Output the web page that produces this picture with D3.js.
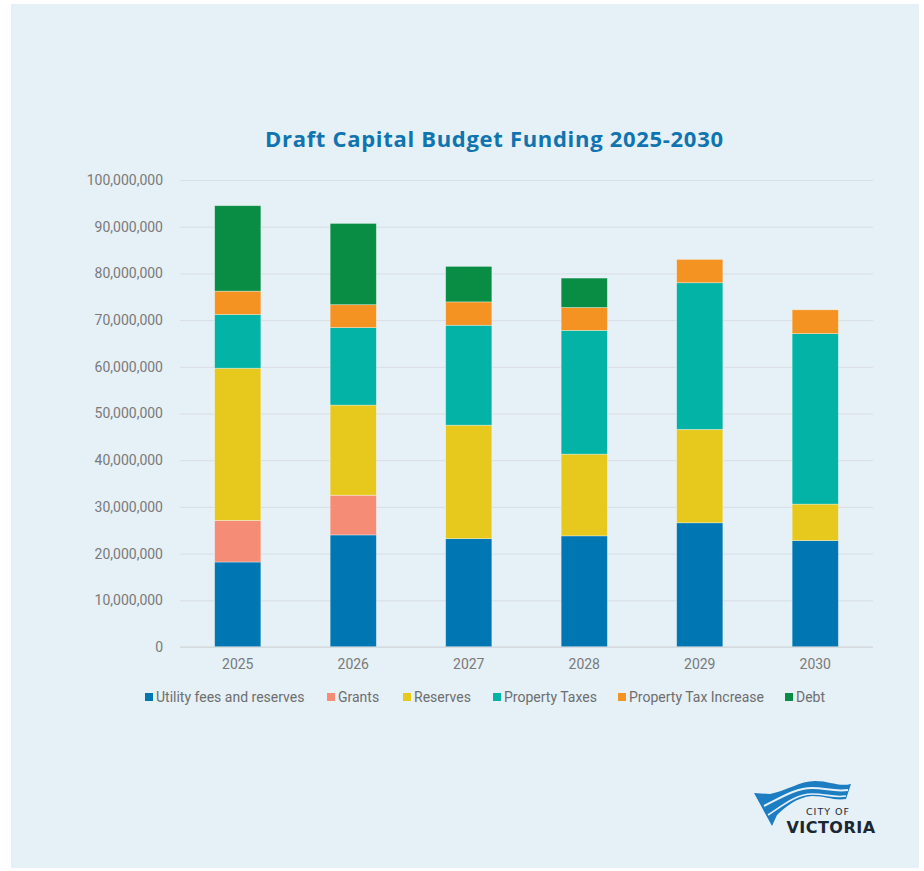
<!DOCTYPE html>
<html>
<head>
<meta charset="utf-8">
<script src="https://cdn.jsdelivr.net/npm/d3@7"></script>
<style>
  html, body { margin: 0; padding: 0; background: #ffffff; }
  svg { display: block; }
</style>
</head>
<body>
<svg id="chart" width="924" height="871"></svg>
<script>
// Capital funding sources by year, in millions of dollars
const years = ["2025", "2026", "2027", "2028", "2029", "2030"];
const seriesNames = ["Utility fees and reserves", "Grants", "Reserves", "Property Taxes", "Property Tax Increase", "Debt"];
const seriesColors = ["#0077B3", "#F48C76", "#E6C91C", "#03B3A6", "#F49321", "#098D45"];

const utilityFees      = [18.2, 24.0, 23.2, 23.8, 26.6, 22.8];
const grants           = [8.9, 8.5, 0, 0, 0, 0];
const reserves         = [32.6, 19.3, 24.3, 17.5, 20.0, 7.8];
const propertyTaxes    = [11.5, 16.6, 21.4, 26.5, 31.4, 36.5];
const propertyTaxIncr  = [5.0, 4.9, 5.0, 4.9, 5.0, 5.1];
const debt             = [18.3, 17.4, 7.6, 6.3, 0, 0];

const yTicks = [0, 10e6, 20e6, 30e6, 40e6, 50e6, 60e6, 70e6, 80e6, 90e6, 100e6];

const seriesValues = [utilityFees, grants, reserves, propertyTaxes, propertyTaxIncr, debt];
const rows = years.map((yr, i) => {
  const r = { year: yr };
  seriesNames.forEach((n, s) => { r[n] = seriesValues[s][i] * 1e6; });
  return r;
});

const svg = d3.select("#chart");

// Panel background
svg.append("rect")
  .attr("x", 11).attr("y", 4).attr("width", 908).attr("height", 864)
  .attr("fill", "#E5F0F7");

const plot = { left: 180, right: 873, top: 180, bottom: 647 };

const x = d3.scaleBand().domain(years)
  .range([plot.left, plot.right])
  .paddingInner(0.6).paddingOuter(0.3);

const y = d3.scaleLinear().domain([0, 100e6]).range([plot.bottom, plot.top]);

// Title
svg.append("text")
  .attr("x", 494).attr("y", 147)
  .attr("text-anchor", "middle")
  .attr("font-family", "'Open Sans', Lato, sans-serif")
  .attr("font-weight", 700)
  .attr("font-size", 22)
  .attr("textLength", 458)
  .attr("lengthAdjust", "spacing")
  .attr("fill", "#0F74AF")
  .text("Draft Capital Budget Funding 2025-2030");

// Gridlines and value labels
const yAxis = d3.axisLeft(y).tickValues(yTicks)
  .tickFormat(d => d3.format(",")(d))
  .tickSize(-(plot.right - plot.left)).tickPadding(17);

const gy = svg.append("g")
  .attr("transform", `translate(${plot.left},0)`)
  .call(yAxis);
gy.select(".domain").remove();
gy.selectAll(".tick line").attr("stroke", "#D9DEE3").attr("stroke-width", 1);
gy.selectAll(".tick text")
  .attr("font-family", "Roboto, 'Noto Sans', sans-serif")
  .attr("font-size", 14)
  .attr("fill", "#7A7A7A");

// Stacked bars
const stacked = d3.stack().keys(seriesNames)(rows);

svg.append("g").selectAll("g")
  .data(stacked)
  .join("g")
  .attr("fill", (d, i) => seriesColors[i])
  .selectAll("rect")
  .data(d => d.filter(p => p[1] - p[0] > 0))
  .join("rect")
  .attr("x", d => x(d.data.year))
  .attr("width", x.bandwidth())
  .attr("y", d => y(d[1]))
  .attr("height", d => y(d[0]) - y(d[1]))
  .attr("stroke", "rgba(255,255,255,0.45)")
  .attr("stroke-width", 0.75);

// Baseline
svg.append("line")
  .attr("x1", plot.left).attr("x2", plot.right)
  .attr("y1", y(0)).attr("y2", y(0))
  .attr("stroke", "#D0D5DA").attr("stroke-width", 1.2);

// Year labels
const xAxis = d3.axisBottom(x).tickSize(0).tickPadding(12);
const gx = svg.append("g")
  .attr("transform", `translate(0,${plot.bottom})`)
  .call(xAxis);
gx.select(".domain").remove();
gx.selectAll(".tick text")
  .attr("font-family", "Roboto, 'Noto Sans', sans-serif")
  .attr("font-size", 14)
  .attr("fill", "#7A7A7A");

// Legend
const legendX = [145, 327, 403, 493, 618, 785];
const legend = svg.append("g");
seriesNames.forEach((n, i) => {
  const g = legend.append("g").attr("transform", `translate(${legendX[i]},697)`);
  g.append("rect").attr("x", 0).attr("y", -4).attr("width", 8).attr("height", 8)
    .attr("fill", seriesColors[i]);
  g.append("text").attr("x", 11).attr("y", 0).attr("dy", "0.35em")
    .attr("font-family", "Roboto, 'Noto Sans', sans-serif")
    .attr("font-size", 14)
    .attr("fill", "#6E6E6E")
    .text(n);
});

// City of Victoria logo
const logo = svg.append("g");
logo.append("path")
  .attr("d", "M754,793 L770,794 C786,791 800,781 815,781 C830,781 838,787 851,784 L846,799 C834,801 826,796 812,796 C797,797 784,808 777,815 L772,826 Z")
  .attr("fill", "#1D7DC2");
logo.append("path")
  .attr("d", "M764,806 C782,797 796,788 812,788 C826,788 834,792 848,790")
  .attr("fill", "none").attr("stroke", "#E5F0F7").attr("stroke-width", 2);
logo.append("path")
  .attr("d", "M768,815 C782,806 796,794 812,794 C826,794 834,798 846,796")
  .attr("fill", "none").attr("stroke", "#E5F0F7").attr("stroke-width", 1.6);
logo.append("text")
  .attr("x", 828).attr("y", 815)
  .attr("text-anchor", "middle")
  .attr("font-family", "'DejaVu Sans', sans-serif")
  .attr("font-size", 9.5)
  .attr("letter-spacing", 1)
  .attr("fill", "#1B2735")
  .text("CITY OF");
logo.append("text")
  .attr("x", 831).attr("y", 833)
  .attr("text-anchor", "middle")
  .attr("font-family", "'DejaVu Sans', sans-serif")
  .attr("font-size", 16)
  .attr("font-weight", 600)
  .attr("letter-spacing", 0.5)
  .attr("fill", "#1B2735")
  .text("VICTORIA");
</script>
</body>
</html>
